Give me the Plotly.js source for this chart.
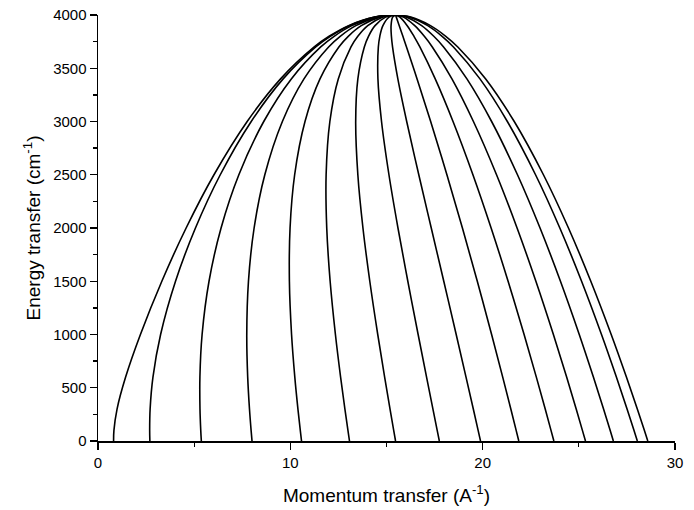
<!DOCTYPE html>
<html>
<head>
<meta charset="utf-8">
<script src="https://cdn.plot.ly/plotly-3.0.1.min.js"></script>
<style>html,body{margin:0;padding:0;background:#fff;} #chart{width:694px;height:510px;}</style>
</head>
<body>
<div id="chart"></div>
<script>
// Energy transfer (cm^-1) sample levels shared by all curves
const energy = [0, 100, 300, 600, 1000, 1500, 2000, 2500, 3000, 3400, 3700, 3800, 3900, 3980, 4000];

// Momentum transfer (A^-1) for each detector-angle curve
const q3   = [0.8099, 0.8280, 0.9904, 1.4362, 2.2055, 3.3191, 4.5821, 6.0303, 7.7565, 9.4922, 11.2418, 12.0173, 13.0284, 14.3782, 15.4705];
const q10  = [2.6967, 2.6867, 2.7100, 2.8570, 3.2548, 4.0307, 5.0670, 6.3573, 7.9669, 9.6263, 11.3221, 12.0787, 13.0685, 14.3945, 15.4705];
const q20  = [5.3729, 5.3425, 5.3023, 5.2984, 5.4126, 5.7723, 6.3988, 7.3239, 8.6180, 10.0513, 11.5803, 12.2770, 13.1985, 14.4474, 15.4705];
const q30  = [8.0081, 7.9599, 7.8758, 7.7835, 7.7352, 7.8228, 8.1166, 8.6737, 9.5864, 10.7092, 11.9900, 12.5940, 13.4080, 14.5335, 15.4705];
const q40  = [10.5824, 10.5175, 10.3950, 10.2326, 10.0639, 9.9515, 9.9860, 10.2245, 10.7624, 11.5421, 12.5247, 13.0119, 13.6873, 14.6494, 15.4705];
const q50  = [13.0762, 12.9952, 12.8374, 12.6135, 12.3440, 12.0696, 11.8928, 11.8604, 12.0552, 12.4928, 13.1539, 13.5094, 14.0239, 14.7911, 15.4705];
const q60  = [15.4705, 15.3741, 15.1834, 14.9035, 14.5453, 14.1319, 13.7756, 13.5102, 13.3979, 13.5108, 13.8471, 14.0636, 14.4041, 14.9536, 15.4705];
const q70  = [17.7470, 17.6361, 17.4145, 17.0831, 16.6450, 16.1088, 15.5962, 15.1272, 14.7416, 14.5544, 14.5758, 14.6525, 14.8133, 15.1314, 15.4705];
const q80  = [19.8885, 19.7640, 19.5136, 19.1347, 18.6240, 17.9780, 17.3271, 16.6789, 16.0503, 15.5899, 15.3142, 15.2551, 15.2374, 15.3185, 15.4705];
const q90  = [21.8786, 21.7414, 21.4644, 21.0421, 20.4655, 19.7211, 18.9474, 18.1407, 17.2965, 16.5902, 16.0401, 15.8525, 15.6627, 15.5091, 15.4705];
const q100 = [23.7022, 23.5535, 23.2522, 22.7905, 22.1545, 21.3222, 20.4396, 19.4933, 18.4589, 17.5336, 16.7347, 16.4283, 16.0767, 15.6975, 15.4705];
const q110 = [25.3454, 25.1862, 24.8632, 24.3662, 23.6774, 22.7673, 21.7892, 20.7206, 19.5200, 18.4023, 17.3817, 16.9679, 16.4683, 15.8780, 15.4705];
const q120 = [26.7957, 26.6273, 26.2851, 25.7571, 25.0222, 24.0444, 22.9835, 21.8094, 20.4655, 19.1815, 17.9675, 17.4591, 16.8274, 16.0455, 15.4705];
const q130 = [28.0420, 27.8658, 27.5072, 26.9526, 26.1783, 25.1430, 24.0119, 22.7488, 21.2841, 19.8595, 18.4811, 17.8914, 17.1455, 16.1954, 15.4705];
const q135 = [28.5857, 28.4060, 28.0402, 27.4741, 26.6826, 25.6224, 24.4610, 23.1594, 21.6427, 20.1575, 18.7078, 18.0828, 17.2869, 16.2625, 15.4705];

const curves = [q3, q10, q20, q30, q40, q50, q60, q70, q80, q90, q100, q110, q120, q130, q135];

const xTickVals = [0, 10, 20, 30];
const yTickVals = [0, 500, 1000, 1500, 2000, 2500, 3000, 3500, 4000];

const traces = curves.map(q => ({
  x: q,
  y: energy,
  type: 'scatter',
  mode: 'lines',
  line: {color: '#000', width: 1.6, shape: 'spline', smoothing: 1},
  hoverinfo: 'skip',
  showlegend: false
}));

const fontFam = '"Liberation Sans", Arial, sans-serif';

const layout = {
  width: 694,
  height: 510,
  margin: {l: 98, r: 19, t: 15, b: 69},
  paper_bgcolor: '#fff',
  plot_bgcolor: '#fff',
  font: {family: fontFam, color: '#000', size: 15},
  showlegend: false,
  xaxis: {
    range: [0, 30],
    tickvals: xTickVals,
    ticktext: xTickVals.map(String),
    ticks: 'outside', ticklen: 7, tickwidth: 1.3, tickcolor: '#000',
    minor: {ticks: 'outside', ticklen: 4, tickwidth: 1.3, tickcolor: '#000', dtick: 5, tick0: 0, showgrid: false},
    showline: true, linecolor: '#000', linewidth: 1.5,
    showgrid: false, zeroline: false,
    tickfont: {family: fontFam, size: 15, color: '#000'},
    title: {text: 'Momentum transfer (A<sup>-1</sup>)', font: {family: fontFam, size: 19, color: '#000'}, standoff: 19},
    automargin: false
  },
  yaxis: {
    range: [0, 4000],
    tickvals: yTickVals,
    ticktext: yTickVals.map(String),
    ticks: 'outside', ticklen: 7, tickwidth: 1.3, tickcolor: '#000',
    minor: {ticks: 'outside', ticklen: 4, tickwidth: 1.3, tickcolor: '#000', dtick: 250, tick0: 0, showgrid: false},
    showline: true, linecolor: '#000', linewidth: 1.5,
    showgrid: false, zeroline: false,
    tickfont: {family: fontFam, size: 15, color: '#000'},
    title: {text: 'Energy transfer (cm<sup>-1</sup>)', font: {family: fontFam, size: 19, color: '#000'}, standoff: 7},
    automargin: false
  }
};

Plotly.newPlot('chart', traces, layout, {staticPlot: true, displayModeBar: false});
</script>
</body>
</html>
